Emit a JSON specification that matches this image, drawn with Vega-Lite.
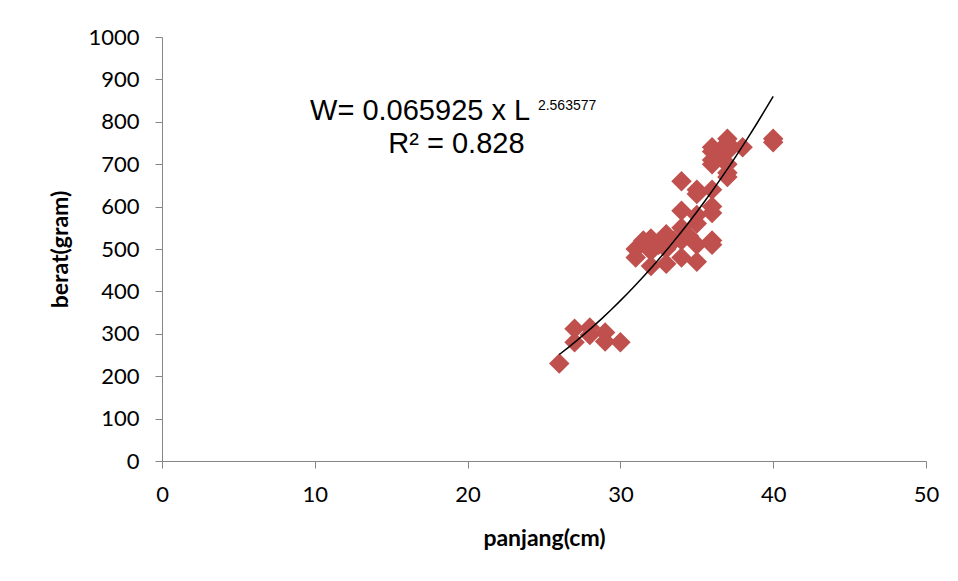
{
  "$schema": "https://vega.github.io/schema/vega-lite/v6.json",
  "width": 764,
  "height": 424,
  "autosize": "none",
  "padding": {"left": 162, "top": 37, "right": 32, "bottom": 120},
  "background": "white",
  "config": {
    "view": {"stroke": null},
    "axis": {"labelFont": "Lato", "titleFont": "Lato", "labelColor": "#000", "titleColor": "#000", "domainColor": "#868686", "tickColor": "#868686", "grid": false}
  },
  "datasets": {
    "fish": [
      {"panjang": 26, "berat": 230},
      {"panjang": 27, "berat": 312},
      {"panjang": 27, "berat": 280},
      {"panjang": 28, "berat": 315},
      {"panjang": 28, "berat": 297},
      {"panjang": 29, "berat": 303},
      {"panjang": 29, "berat": 282},
      {"panjang": 30, "berat": 280},
      {"panjang": 31, "berat": 500},
      {"panjang": 31, "berat": 480},
      {"panjang": 31.5, "berat": 520},
      {"panjang": 32, "berat": 525},
      {"panjang": 32, "berat": 495},
      {"panjang": 32, "berat": 460},
      {"panjang": 32.5, "berat": 510},
      {"panjang": 33, "berat": 535},
      {"panjang": 33, "berat": 500},
      {"panjang": 33, "berat": 465},
      {"panjang": 33.5, "berat": 520},
      {"panjang": 34, "berat": 550},
      {"panjang": 34, "berat": 520},
      {"panjang": 34, "berat": 480},
      {"panjang": 34.5, "berat": 530},
      {"panjang": 34, "berat": 590},
      {"panjang": 34, "berat": 660},
      {"panjang": 35, "berat": 560},
      {"panjang": 35, "berat": 510},
      {"panjang": 35, "berat": 470},
      {"panjang": 35, "berat": 580},
      {"panjang": 35, "berat": 640},
      {"panjang": 35, "berat": 630},
      {"panjang": 36, "berat": 520},
      {"panjang": 36, "berat": 510},
      {"panjang": 36, "berat": 600},
      {"panjang": 36, "berat": 585},
      {"panjang": 36, "berat": 640},
      {"panjang": 36, "berat": 700},
      {"panjang": 36, "berat": 710},
      {"panjang": 36, "berat": 730},
      {"panjang": 36, "berat": 740},
      {"panjang": 36.5, "berat": 720},
      {"panjang": 37, "berat": 760},
      {"panjang": 37, "berat": 750},
      {"panjang": 37, "berat": 730},
      {"panjang": 37, "berat": 700},
      {"panjang": 37, "berat": 680},
      {"panjang": 37, "berat": 670},
      {"panjang": 38, "berat": 740},
      {"panjang": 40, "berat": 760},
      {"panjang": 40, "berat": 752}
    ]
  },
  "layer": [
    {
      "data": {"name": "fish"},
      "mark": {"type": "point", "shape": "diamond", "filled": true, "size": 420, "color": "#C0504D", "opacity": 1},
      "encoding": {
        "x": {"field": "panjang", "type": "quantitative", "scale": {"domain": [0, 50], "nice": false, "zero": true},
          "axis": {"values": [0, 10, 20, 30, 40, 50], "title": "panjang(cm)", "titleFontSize": 23, "titleFontWeight": "bold", "titlePadding": 22, "labelFontSize": 22, "labelPadding": 16, "tickSize": 7, "labelFlush": false}},
        "y": {"field": "berat", "type": "quantitative", "scale": {"domain": [0, 1000], "nice": false},
          "axis": {"values": [0, 100, 200, 300, 400, 500, 600, 700, 800, 900, 1000], "format": "d", "title": "berat(gram)", "titleFontSize": 23, "titleFontWeight": "bold", "titlePadding": 15, "labelFontSize": 22, "labelPadding": 16, "tickSize": 7}}
      }
    },
    {
      "data": {"name": "fish"},
      "transform": [{"regression": "berat", "on": "panjang", "method": "pow", "extent": [26, 40]}],
      "mark": {"type": "line", "color": "#000000", "strokeWidth": 1.5},
      "encoding": {
        "x": {"field": "panjang", "type": "quantitative"},
        "y": {"field": "berat", "type": "quantitative"}
      }
    },
    {
      "data": {"values": [{}]},
      "mark": {"type": "text", "text": "W= 0.065925 x L", "font": "Liberation Sans", "fontSize": 29, "align": "left", "baseline": "alphabetic", "color": "#000"},
      "encoding": {"x": {"datum": 9.69}, "y": {"datum": 804}}
    },
    {
      "data": {"values": [{}]},
      "mark": {"type": "text", "text": "2.563577", "font": "Liberation Sans", "fontSize": 14, "align": "left", "baseline": "alphabetic", "color": "#000"},
      "encoding": {"x": {"datum": 24.6}, "y": {"datum": 828}}
    },
    {
      "data": {"values": [{}]},
      "mark": {"type": "text", "text": "R² = 0.828", "font": "Liberation Sans", "fontSize": 29, "align": "center", "baseline": "alphabetic", "color": "#000"},
      "encoding": {"x": {"datum": 19.27}, "y": {"datum": 726}}
    }
  ]
}
